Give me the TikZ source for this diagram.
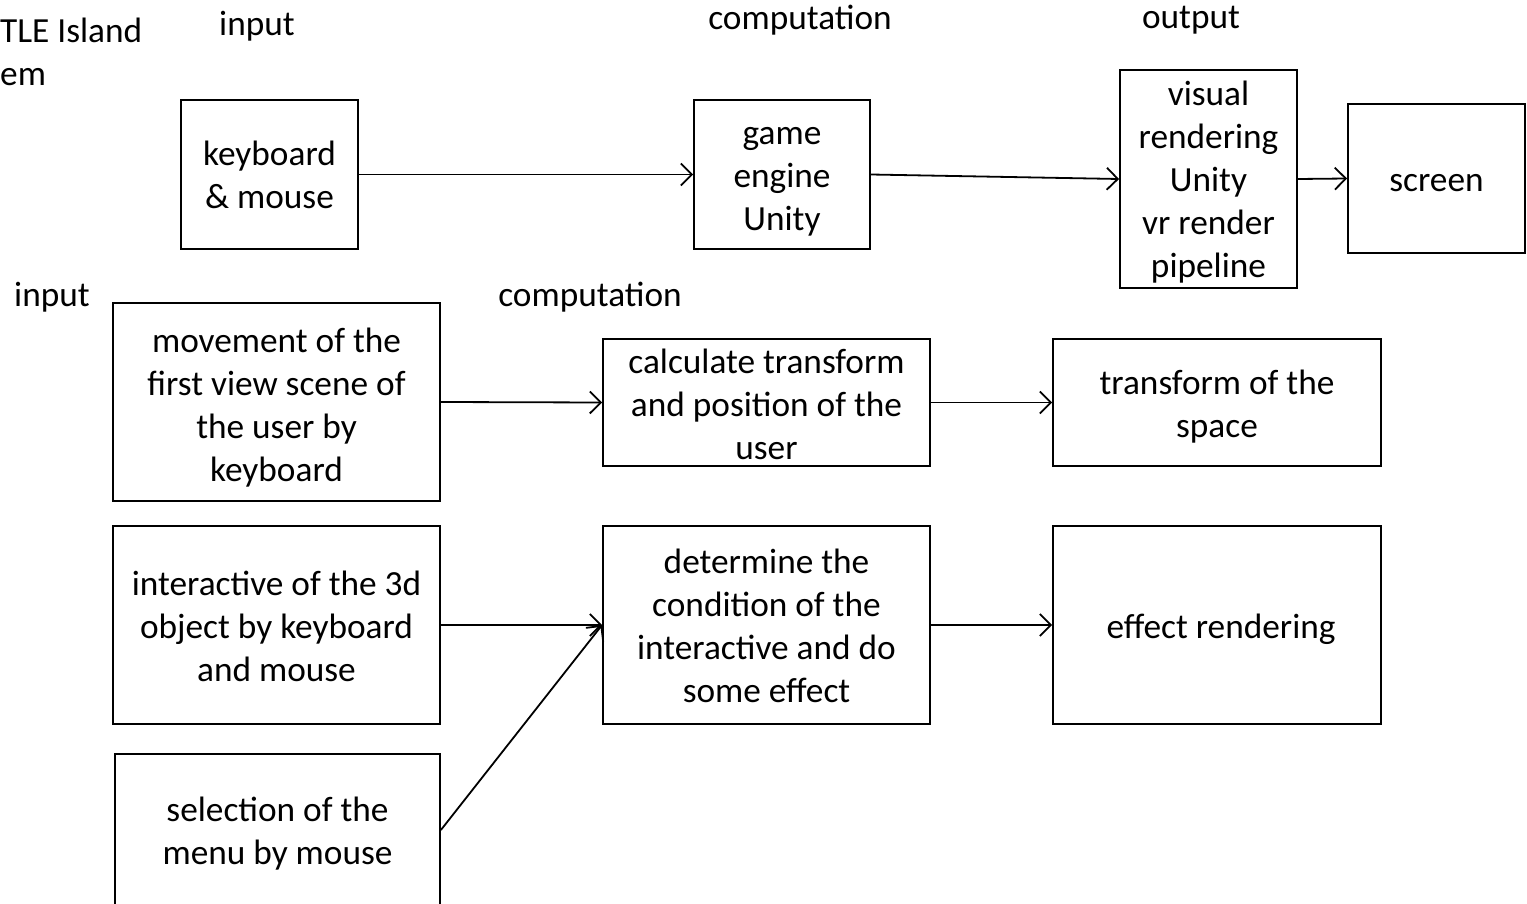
\documentclass[tikz,border=0pt]{standalone}
\usepackage{fontspec}
\setmainfont{Carlito}
\usetikzlibrary{arrows.meta}
\tikzset{
  box/.style={draw, line width=1.8pt, inner sep=0pt},
  txt/.style={inner sep=0pt, align=center, font=\fontsize{35.3}{43}\selectfont},
  lbl/.style={inner sep=0pt, font=\fontsize{35.3}{43}\selectfont},
  arr/.style={line width=1.8pt, -{Straight Barb[length=11pt,width=22pt,line width=1.8pt]}}
}
\begin{document}
\begin{tikzpicture}[x=1pt,y=-1pt]
\useasboundingbox (0,0) rectangle (1527,904);
\begin{scope}
\clip (0,0) rectangle (1527,904);
% labels
\node[lbl, anchor=west, align=left] (title) at (0,52) {TLE Island\\em};
\node[lbl] (in1) at (257,26) {input};
\node[lbl] (co1) at (800,20) {computation};
\node[lbl] (ou1) at (1191,20) {output};
\node[lbl] (in2) at (52,297) {input};
\node[lbl] (co2) at (590,297) {computation};
% boxes
\node[box, minimum width=177pt, minimum height=149pt] (km) at (269.5,174.5) {};
\node[box, minimum width=176pt, minimum height=149pt] (ge) at (782,174.5) {};
\node[box, minimum width=177pt, minimum height=218pt] (vr) at (1208.5,179) {};
\node[box, minimum width=177pt, minimum height=149pt] (sc) at (1436.5,178.5) {};
\node[box, minimum width=327pt, minimum height=198pt] (mv) at (276.5,402) {};
\node[box, minimum width=327pt, minimum height=127pt] (calc) at (766.5,402.5) {};
\node[box, minimum width=328pt, minimum height=127pt] (tr) at (1217,402.5) {};
\node[box, minimum width=327pt, minimum height=198pt] (int) at (276.5,625) {};
\node[box, minimum width=327pt, minimum height=198pt] (det) at (766.5,625) {};
\node[box, minimum width=328pt, minimum height=198pt] (eff) at (1217,625) {};
\node[box, minimum width=325pt, minimum height=152pt] (sel) at (277.5,830) {};
% texts
\node[txt, yshift=0pt] (kmt) at (km.center) {keyboard\\\& mouse};
\node[txt, yshift=-7pt] (get) at (ge.center) {game\\engine\\Unity};
\node[txt, yshift=-3pt] (vrt) at (vr.center) {visual\\rendering\\Unity\\vr render\\pipeline};
\node[txt, yshift=-5pt] (sct) at (sc.center) {screen};
\node[txt, yshift=-6pt] (mvt) at (mv.center) {movement of the\\first view scene of\\the user by\\keyboard};
\node[txt, yshift=-2pt] (calct) at (calc.center) {calculate transform\\and position of the\\user};
\node[txt, yshift=-4pt] (trt) at (tr.center) {transform of the\\space};
\node[txt, yshift=-1pt] (intt) at (int.center) {interactive of the 3d\\object by keyboard\\and mouse};
\node[txt, yshift=-1pt] (dett) at (det.center) {determine the\\condition of the\\interactive and do\\some effect};
\node[txt, yshift=-4pt, xshift=4pt] (efft) at (eff.center) {effect rendering};
\node[txt, yshift=-4pt] (selt) at (sel.center) {selection of the\\menu by mouse};
% arrows
\draw[arr] (km.east) -- (ge.west);
\draw[arr] (ge.east) -- (vr.west);
\draw[arr] (vr.east) -- (sc.west);
\draw[arr] (mv.east) -- (calc.west);
\draw[arr] (calc.east) -- (tr.west);
\draw[arr] (int.east) -- (det.west);
\draw[arr] (det.east) -- (eff.west);
\draw[arr] (sel.east) -- (det.west);
\end{scope}
\end{tikzpicture}
\end{document}
